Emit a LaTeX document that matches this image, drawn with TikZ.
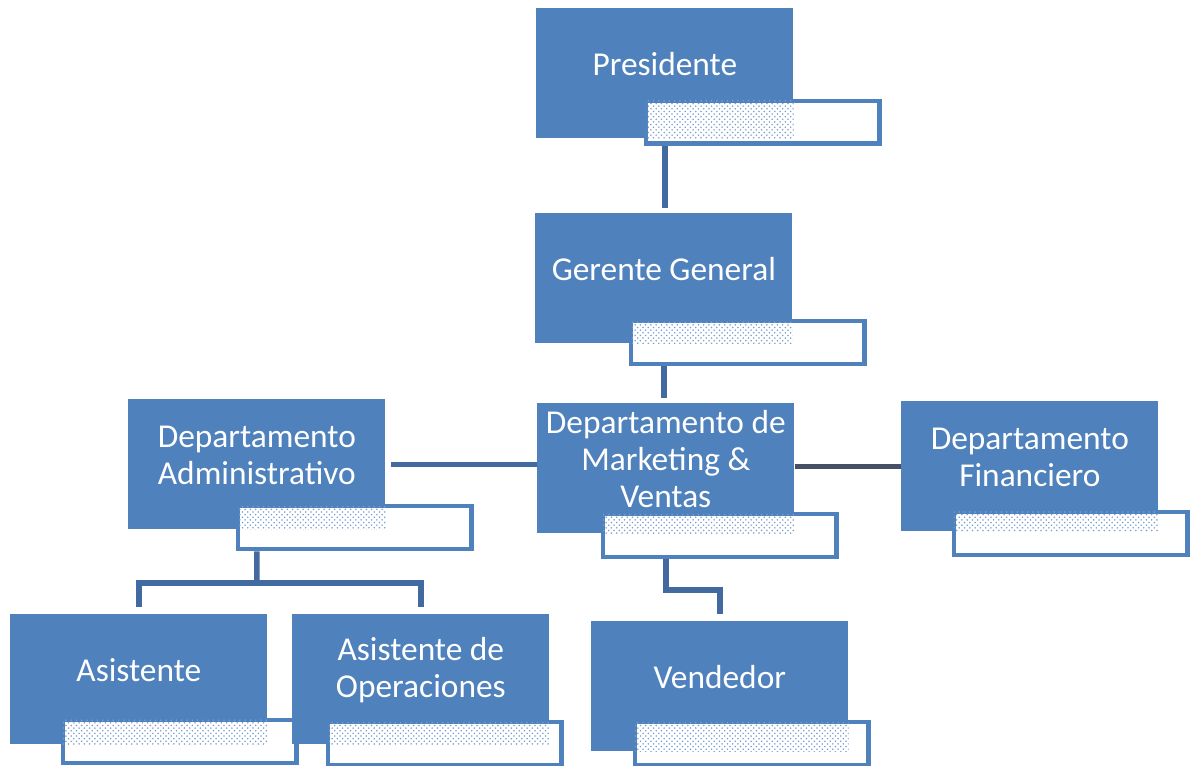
\documentclass[tikz,border=0pt]{standalone}
\usepackage{fontspec}
\setmainfont{Carlito}
\usetikzlibrary{patterns, calc}
\definecolor{azul}{RGB}{79,129,189}
\definecolor{linea}{RGB}{66,106,160}
\definecolor{oscuro}{RGB}{70,80,100}

\begin{document}
\begin{tikzpicture}[x=0.02cm, y=-0.02cm,
  caja/.style={fill=azul, minimum width=5.14cm, minimum height=2.6cm, inner sep=0pt, anchor=north west},
  nota/.style={draw=azul, line width=2.8pt, fill=white, minimum width=4.68cm, minimum height=0.86cm, inner sep=0pt, anchor=north west},
  punteado/.style={pattern=crosshatch dots, pattern color=azul!75},
  texto/.style={text=white, align=center, font=\fontsize{19}{21}\selectfont},
  enlace/.style={draw=linea, line width=3.2pt}]

\useasboundingbox (0,0) rectangle (1193,765);

% Presidente
\node[caja] (pres) at (536,8) {};
\node[nota] (presN) at (643.5,98.5) {};
\fill[punteado] ([shift={(1.4pt,-1.4pt)}]presN.north west) rectangle (pres.south east);
\node[texto] (presT) at ([yshift=0.18cm]pres.center) {Presidente};

% Gerente General
\node[caja] (ger) at (535,213) {};
\node[nota] (gerN) at (628.5,318.5) {};
\fill[punteado] ([shift={(1.4pt,-1.4pt)}]gerN.north west) rectangle (ger.south east);
\node[texto] (gerT) at ([yshift=0.18cm]ger.center) {Gerente General};

% Departamento de Marketing & Ventas
\node[caja] (mkt) at (537,403) {};
\node[nota] (mktN) at (600.5,511.5) {};
\fill[punteado] ([shift={(1.4pt,-1.4pt)}]mktN.north west) rectangle (mkt.south east);
\node[texto] (mktT) at ([yshift=0.18cm]mkt.center) {Departamento de\\Marketing \&\\Ventas};

% Departamento Financiero
\node[caja] (fin) at (901,401) {};
\node[nota] (finN) at (951.5,509.5) {};
\fill[punteado] ([shift={(1.4pt,-1.4pt)}]finN.north west) rectangle (fin.south east);
\node[texto] (finT) at ([yshift=0.18cm]fin.center) {Departamento\\Financiero};

% Departamento Administrativo
\node[caja] (adm) at (128,399) {};
\node[nota] (admN) at (235.5,503.5) {};
\fill[punteado] ([shift={(1.4pt,-1.4pt)}]admN.north west) rectangle (adm.south east);
\node[texto] (admT) at ([yshift=0.18cm]adm.center) {Departamento\\Administrativo};

% Asistente
\node[caja] (asis) at (10,614) {};
\node[nota] (asisN) at (60.5,717.5) {};
\fill[punteado] ([shift={(1.4pt,-1.4pt)}]asisN.north west) rectangle (asis.south east);
\node[texto] (asisT) at ([yshift=0.18cm]asis.center) {Asistente};

% Asistente de Operaciones
\node[caja] (oper) at (292,614) {};
\node[nota] (operN) at (325.5,719.5) {};
\fill[punteado] ([shift={(1.4pt,-1.4pt)}]operN.north west) rectangle (oper.south east);
\node[texto] (operT) at ([yshift=0.18cm]oper.center) {Asistente de\\Operaciones};

% Vendedor
\node[caja] (vend) at (591,621) {};
\node[nota] (vendN) at (632.5,719.5) {};
\fill[punteado] ([shift={(1.4pt,-1.4pt)}]vendN.north west) rectangle (vend.south east);
\node[texto] (vendT) at ([yshift=0.18cm]vend.center) {Vendedor};

% conexiones
\draw[enlace, shorten >=3pt] (pres.south |- presN.south) -- (pres.south |- ger.north);
\draw[enlace, shorten >=3pt] (ger.south |- gerN.south) -- (ger.south |- mkt.north);
\draw[enlace, shorten <=3pt] (adm.east) -- (adm.east -| mkt.west);
\draw[draw=oscuro, line width=2.6pt] (fin.west -| mkt.east) -- (fin.west);

\coordinate (mktV) at ($(mkt.south |- mktN.south)!0.5!(mkt.south |- vend.north)$);
\draw[enlace, shorten >=4pt] (mkt.south |- mktN.south) -- (mktV) -| (vend.north);

\coordinate (admV) at ($(adm.south |- admN.south)!0.5!(adm.south |- asis.north)$);
\draw[enlace] (adm.south |- admN.south) -- (admV);
\draw[enlace, shorten <=4pt, shorten >=4pt] (asis.north) |- (admV) -| (oper.north);
\end{tikzpicture}
\end{document}
